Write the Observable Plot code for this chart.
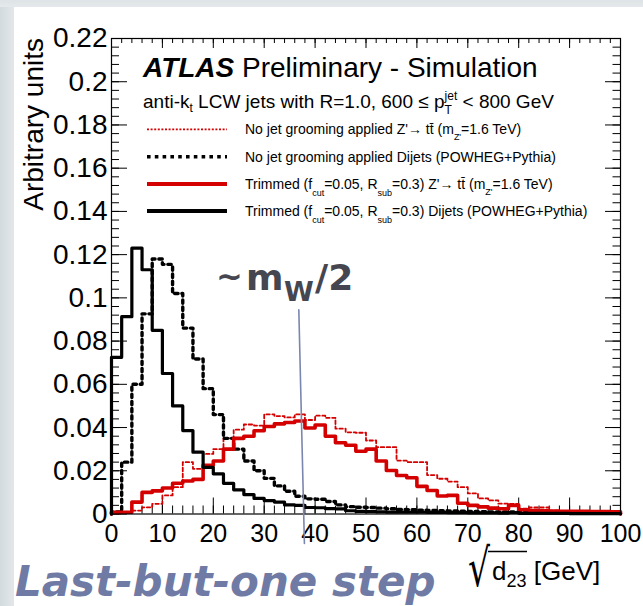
<!DOCTYPE html>
<html><head><meta charset="utf-8">
<script src="https://cdn.jsdelivr.net/npm/d3@7"></script>
<script src="https://cdn.jsdelivr.net/npm/@observablehq/plot@0.6"></script>
<style>
html,body{margin:0;padding:0;width:643px;height:606px;overflow:hidden;}
body{position:relative;background:linear-gradient(90deg,#d3dbdf 0px,#e2e7ea 14px,#e2e7ea 100%);}
#topstrip{position:absolute;left:0;top:0;width:643px;height:7px;background:linear-gradient(180deg,#dde3e6,#e5e9eb);}
#white{position:absolute;left:14px;top:7px;right:0;bottom:0;background:#fff;}
#chart{position:absolute;left:0;top:0;}
</style></head><body>
<div id="topstrip"></div><div id="white"></div><div id="chart"></div>
<script>
const FONT = "Liberation Sans, Arial, Helvetica, sans-serif";
// bins of 2 GeV from 0 to 100
const binEdges = d3.range(0, 100, 2);
const noGroomZp = [0.0002,0.0005,0.0016,0.0031,0.0047,0.0086,0.0124,0.0240,0.0209,0.0278,
  0.0300,0.0350,0.0390,0.0414,0.0409,0.0461,0.0453,0.0447,0.0461,0.0435,
  0.0455,0.0445,0.0395,0.0378,0.0376,0.0340,0.0309,0.0309,0.0247,0.0240,
  0.0240,0.0180,0.0163,0.0150,0.0124,0.0095,0.0072,0.0063,0.0048,0.0047,
  0.0025,0.0030,0.0030,0.0015,0.0013,0.0013,0.0012,0.0011,0.0010,0.0010];
const noGroomDijets = [0.0010,0.0240,0.0600,0.0926,0.1180,0.1155,0.1020,0.0860,0.0717,0.0580,
  0.0460,0.0350,0.0300,0.0245,0.0200,0.0165,0.0130,0.0105,0.0082,0.0070,
  0.0068,0.0058,0.0042,0.0034,0.0031,0.0030,0.0027,0.0024,0.0021,0.0020,
  0.0018,0.0016,0.0015,0.0014,0.0013,0.0012,0.0011,0.0010,0.0010,0.0009,
  0.0007,0.0006,0.0006,0.0005,0.0005,0.0005,0.0004,0.0004,0.0004,0.0003];
const trimZp = [0.0008,0.0008,0.0055,0.0100,0.0107,0.0120,0.0142,0.0153,0.0160,0.0225,
  0.0245,0.0300,0.0350,0.0360,0.0385,0.0405,0.0417,0.0423,0.0430,0.0398,
  0.0412,0.0360,0.0330,0.0318,0.0290,0.0300,0.0245,0.0201,0.0178,0.0168,
  0.0128,0.0109,0.0083,0.0086,0.0050,0.0040,0.0033,0.0027,0.0024,0.0040,
  0.0020,0.0016,0.0015,0.0014,0.0013,0.0012,0.0012,0.0011,0.0011,0.0010];
const trimDijets = [0.0725,0.0913,0.1230,0.1130,0.0850,0.0650,0.0500,0.0386,0.0286,0.0216,
  0.0186,0.0142,0.0112,0.0090,0.0072,0.0062,0.0055,0.0042,0.0040,0.0030,
  0.0029,0.0025,0.0024,0.0015,0.0012,0.0011,0.0010,0.0009,0.0009,0.0008,
  0.0008,0.0007,0.0007,0.0006,0.0006,0.0005,0.0005,0.0005,0.0004,0.0006,
  0.0003,0.0003,0.0003,0.0003,0.0003,0.0002,0.0002,0.0002,0.0002,0.0002];
const yTicks = [0,0.02,0.04,0.06,0.08,0.1,0.12,0.14,0.16,0.18,0.2,0.22];
const yTickLabels = ["0","0.02","0.04","0.06","0.08","0.1","0.12","0.14","0.16","0.18","0.2","0.22"];
const xTicks = [0,10,20,30,40,50,60,70,80,90,100];
const xTickLabels = ["0","10","20","30","40","50","60","70","80","90","100"];
const yMinor = d3.range(0, 0.2201, 0.004);
const xMinor = d3.range(0, 100.01, 2);
// m_W/2 marker line (GeV, arbitrary units)
const mwLineX = [36.8, 37.9];
const mwLineY = [0.0945, -0.0136];

const RED = "#d40000";
function hist(values) {
  const pts = [{x: 0, y: 0}];
  values.forEach((v, i) => pts.push({x: binEdges[i], y: v}));
  pts.push({x: 100, y: values[values.length - 1]});
  pts.push({x: 100, y: 0});
  return pts;
}
const mL = 111, mR = 23, mT = 38, mB = 92.5, Wd = 643, Ht = 606;
const fW = Wd - mL - mR, fH = Ht - mT - mB;

const plot = Plot.plot({
  width: Wd, height: Ht,
  marginLeft: mL, marginRight: mR, marginTop: mT, marginBottom: mB,
  style: {background: "transparent", fontFamily: FONT, color: "black"},
  x: {domain: [0, 100]},
  y: {domain: [0, 0.22]},
  marks: [
    Plot.tickY(yTicks, {insetRight: fW - 16, stroke: "black"}),
    Plot.tickY(yMinor, {insetRight: fW - 8, stroke: "black"}),
    Plot.tickY(yTicks, {insetLeft: fW - 15, stroke: "black"}),
    Plot.tickY(yMinor, {insetLeft: fW - 7.5, stroke: "black"}),
    Plot.tickX(xTicks, {insetTop: fH - 16, stroke: "black"}),
    Plot.tickX(xMinor, {insetTop: fH - 8, stroke: "black"}),
    Plot.tickX(xTicks, {insetBottom: fH - 10, stroke: "black"}),
    Plot.tickX(xMinor, {insetBottom: fH - 5, stroke: "black"}),
    Plot.axisY(yTicks, {tickSize: 0, tickPadding: 4, fontSize: 28, label: null,
      tickFormat: d => yTickLabels[yTicks.indexOf(d)]}),
    Plot.axisX(xTicks, {tickSize: 0, tickPadding: 10, fontSize: 25, label: null,
      tickFormat: d => xTickLabels[xTicks.indexOf(d)]}),
    Plot.line(hist(noGroomZp), {x: "x", y: "y", curve: "step-after", stroke: RED, strokeWidth: 1.8, strokeDasharray: "3.5,2.5"}),
    Plot.line(hist(noGroomDijets), {x: "x", y: "y", curve: "step-after", stroke: "black", strokeWidth: 3.4, strokeDasharray: "3.4,3.8"}),
    Plot.line(hist(trimZp), {x: "x", y: "y", curve: "step-after", stroke: RED, strokeWidth: 3.6}),
    Plot.line(hist(trimDijets), {x: "x", y: "y", curve: "step-after", stroke: "black", strokeWidth: 3.2}),
    Plot.frame({stroke: "black", strokeWidth: 1.2}),
    Plot.line(mwLineX.map((x, i) => ({x, y: mwLineY[i]})), {x: "x", y: "y", stroke: "#7b86ae", strokeWidth: 1.6})
  ]
});
document.getElementById("chart").appendChild(plot);

const svg = d3.select(plot);
const g = svg.append("g").attr("font-family", FONT).attr("fill", "black").attr("text-anchor", "start");

function rich(x, y, pieces, base) {
  let cx = x;
  for (const p of pieces) {
    if (p.stack) {
      let w = 0;
      for (const q of p.stack) {
        const t = g.append("text").attr("x", cx).attr("y", y + (q.dy || 0))
          .attr("font-size", q.size).text(q.t);
        w = Math.max(w, t.node().getComputedTextLength());
      }
      cx += w;
      continue;
    }
    const t = g.append("text").attr("x", cx + (p.dx || 0)).attr("y", y + (p.dy || 0))
      .attr("font-size", p.size || base.size)
      .attr("font-weight", p.weight || "normal")
      .attr("font-style", p.style || "normal")
      .text(p.t);
    cx += t.node().getComputedTextLength() + (p.dx || 0);
  }
  return cx;
}

// Title
rich(143, 77, [{t: "ATLAS", weight: "bold", style: "italic"}, {t: " Preliminary - Simulation"}], {size: 28});
rich(143, 108, [
  {t: "anti-k"}, {t: "t", size: 12, dy: 4}, {t: " LCW jets with R=1.0, 600 \u2264 p"},
  {stack: [{t: "jet", size: 12, dy: -8}, {t: "T", size: 12, dy: 6}]},
  {t: " < 800 GeV"}
], {size: 19});

// Legend
const legendRows = [
  {y: 129.3, stroke: RED, width: 1.8, dash: "2,1.6",
   text: [{t: "No jet grooming applied Z'\u2192 tt\u0304 (m"}, {t: "Z'", size: 9, dy: 6}, {t: "=1.6 TeV)"}]},
  {y: 156.7, stroke: "black", width: 3.6, dash: "3.6,4.2",
   text: [{t: "No jet grooming applied Dijets (POWHEG+Pythia)"}]},
  {y: 184, stroke: RED, width: 3.8, dash: null,
   text: [{t: "Trimmed (f"}, {t: "cut", size: 9, dy: 7}, {t: "=0.05, R"}, {t: "sub", size: 9, dy: 7}, {t: "=0.3) Z'\u2192 tt\u0304 (m"}, {t: "Z'", size: 9, dy: 6}, {t: "=1.6 TeV)"}]},
  {y: 211, stroke: "black", width: 3.8, dash: null,
   text: [{t: "Trimmed (f"}, {t: "cut", size: 9, dy: 7}, {t: "=0.05, R"}, {t: "sub", size: 9, dy: 7}, {t: "=0.3) Dijets (POWHEG+Pythia)"}]}
];
for (const r of legendRows) {
  const ln = g.append("line").attr("x1", 147).attr("x2", 227).attr("y1", r.y).attr("y2", r.y)
    .attr("stroke", r.stroke).attr("stroke-width", r.width);
  if (r.dash) ln.attr("stroke-dasharray", r.dash);
  rich(245, r.y + 5, r.text, {size: 14});
}

// Y axis title
g.append("text").attr("transform", "translate(43,38) rotate(-90)")
  .attr("text-anchor", "end").attr("font-size", 28).text("Arbitrary units");

// X axis title: sqrt(d23) [GeV]
g.append("text").attr("x", 468).attr("y", 586).attr("font-size", 52).attr("font-family", "DejaVu Sans")
  .attr("textLength", 22).attr("lengthAdjust", "spacingAndGlyphs").text("\u221A");
g.append("line").attr("x1", 488).attr("x2", 527).attr("y1", 551.5).attr("y2", 551.5).attr("stroke", "black").attr("stroke-width", 1.3);
rich(492, 580, [{t: "d"}, {t: "23", size: 18, dy: 7}, {t: " [GeV]"}], {size: 26});

// Annotation ~ m_W/2
const ann = svg.append("g").attr("font-family", "DejaVu Sans").attr("font-weight", "bold").attr("fill", "#45464f").attr("text-anchor", "start");
ann.append("text").attr("x", 216).attr("y", 287).attr("font-size", 32).text("~");
ann.append("text").attr("x", 246).attr("y", 290).attr("font-size", 36).text("m");
ann.append("text").attr("x", 284).attr("y", 301).attr("font-size", 27).text("W");
ann.append("text").attr("x", 315).attr("y", 290).attr("font-size", 36).text("/2");

// Slide caption
svg.append("text").attr("x", 15).attr("y", 596).attr("text-anchor", "start").attr("font-family", "DejaVu Sans")
  .attr("font-weight", "bold").attr("font-style", "italic").attr("font-size", 42)
  .attr("fill", "#6f7ba5").text("Last-but-one step");
</script>
</body></html>
